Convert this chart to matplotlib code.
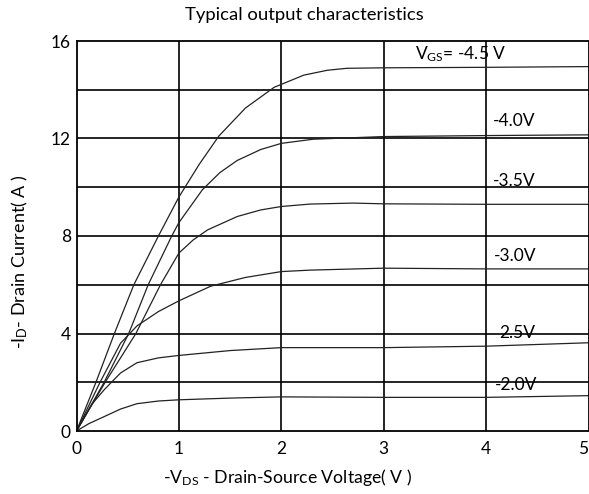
import matplotlib
matplotlib.use("Agg")
import matplotlib.pyplot as plt

plt.rcParams['font.family'] = ['Lato', 'DejaVu Sans']
plt.rcParams['mathtext.fontset'] = 'custom'
plt.rcParams['mathtext.rm'] = 'Lato'
plt.rcParams['mathtext.it'] = 'Lato:italic'
plt.rcParams['mathtext.bf'] = 'Lato:bold'

# Data
vds_45 = [0, 0.19, 0.37, 0.56, 0.80, 1.0, 1.2, 1.39, 1.65, 1.93, 2.22, 2.45, 2.64, 3.0, 4.0, 5.0]
id_45 = [0, 2.0, 4.0, 6.0, 8.0, 9.6, 10.95, 12.1, 13.25, 14.1, 14.6, 14.8, 14.88, 14.9, 14.92, 14.95]

vds_40 = [0, 0.27, 0.51, 0.70, 0.93, 1.0, 1.23, 1.4, 1.57, 1.8, 2.0, 2.31, 3.0, 4.0, 5.0]
id_40 = [0, 2.0, 4.0, 6.0, 8.0, 8.55, 9.9, 10.6, 11.1, 11.55, 11.8, 11.97, 12.08, 12.12, 12.15]

vds_35 = [0, 0.28, 0.58, 0.82, 1.0, 1.14, 1.28, 1.57, 1.8, 2.0, 2.28, 2.7, 3.0, 4.0, 5.0]
id_35 = [0, 2.0, 4.0, 6.0, 7.3, 7.84, 8.25, 8.8, 9.07, 9.21, 9.31, 9.35, 9.32, 9.3, 9.3]

vds_30 = [0, 0.23, 0.43, 0.59, 0.8, 1.0, 1.31, 1.65, 2.0, 2.28, 3.0, 4.0, 5.0]
id_30 = [0, 2.0, 3.6, 4.31, 4.9, 5.34, 5.94, 6.3, 6.54, 6.6, 6.68, 6.65, 6.65]

vds_25 = [0, 0.15, 0.27, 0.43, 0.59, 0.8, 1.0, 1.5, 2.0, 3.0, 4.0, 5.0]
id_25 = [0, 1.1, 1.69, 2.38, 2.8, 3.0, 3.1, 3.3, 3.42, 3.42, 3.48, 3.62]

vds_20 = [0, 0.12, 0.27, 0.43, 0.59, 0.8, 1.0, 1.5, 2.0, 3.0, 4.0, 5.0]
id_20 = [0, 0.3, 0.59, 0.9, 1.12, 1.23, 1.28, 1.35, 1.4, 1.38, 1.38, 1.45]

series = [(vds_45, id_45), (vds_40, id_40), (vds_35, id_35),
          (vds_30, id_30), (vds_25, id_25), (vds_20, id_20)]

curve_labels = [r"V$_{\mathrm{GS}}$= -4.5 V", "-4.0V", "-3.5V", "-3.0V", "2.5V", "-2.0V"]
label_x = [3.31, 4.07, 4.07, 4.08, 4.13, 4.09]
label_y = [15.48, 12.7, 10.24, 7.16, 4.02, 1.89]

x_ticks = [0, 1, 2, 3, 4, 5]
y_ticks = [0, 4, 8, 12, 16]
y_grid = [2, 4, 6, 8, 10, 12, 14]

fig = plt.figure(figsize=(5.89, 4.94), dpi=100)
ax = fig.add_axes([76.5 / 589, 63 / 494, 512 / 589, 390 / 494])

for x in x_ticks[1:-1]:
    ax.axvline(x, color='black', lw=1.2, zorder=1)
for y in y_grid:
    ax.axhline(y, color='black', lw=1.2, zorder=1)

for xs, ys in series:
    ax.plot(xs, ys, color='#222222', lw=0.9, zorder=2)

for t, x, y in zip(curve_labels, label_x, label_y):
    ax.text(x, y, t, fontsize=12.5, ha='left', va='center', zorder=3)

ax.set_xlim(0, 5)
ax.set_ylim(0, 16)
ax.set_xticks(x_ticks)
ax.set_yticks(y_ticks)
ax.tick_params(axis='x', length=0, labelsize=12.5, pad=7)
ax.tick_params(axis='y', length=0, labelsize=12.5, pad=4)
ax.get_xticklabels()[-1].set_horizontalalignment('right')
for s in ax.spines.values():
    s.set_color('black')
    s.set_linewidth(1.3)

fig.text(304 / 589, 1 - 15 / 494, "Typical output characteristics",
         fontsize=13.3, ha='center', va='center')
ax.set_xlabel(r"-V$_{\mathrm{DS}}$ - Drain-Source Voltage( V )", fontsize=12.7)
ax.xaxis.set_label_coords((288 - 76.5) / 512, (431 - 477) / 390)
ax.xaxis.label.set_va('center')
ax.set_ylabel(r"-I$_{\mathrm{D}}$- Drain Current( A )", fontsize=13)
ax.yaxis.set_label_coords((20 - 76.5) / 512, (431 - 262) / 390)
ax.yaxis.label.set_va('center')

fig.savefig("out.png", dpi=100)
